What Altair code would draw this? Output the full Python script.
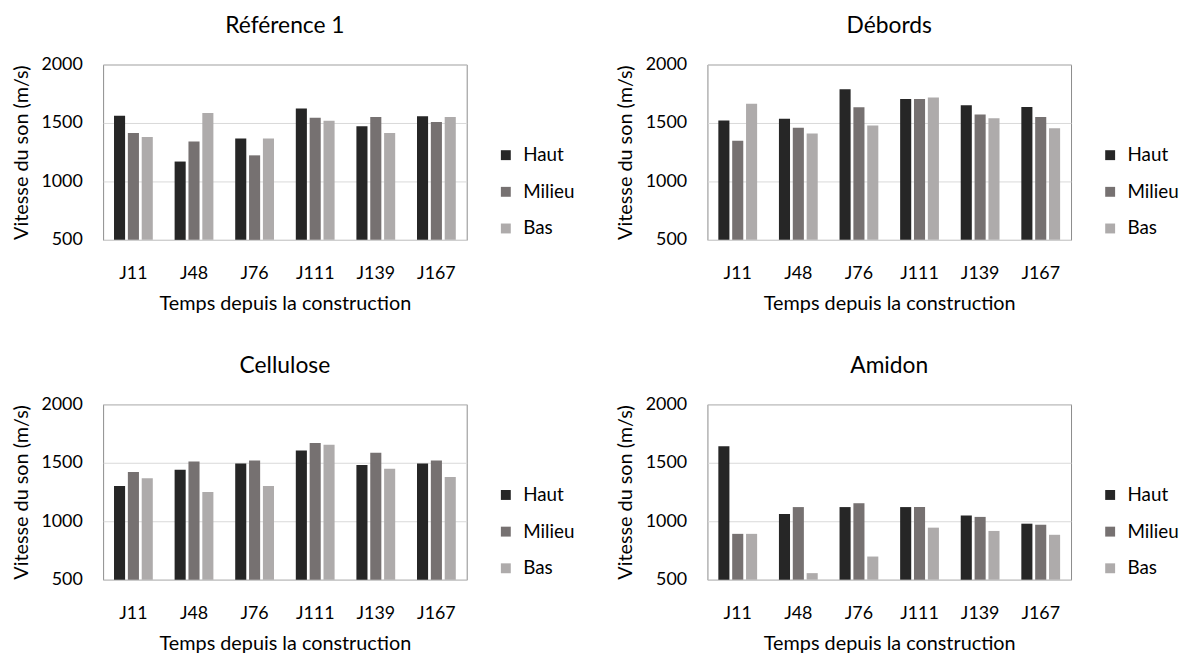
import altair as alt
import pandas as pd

days = ["J11", "J48", "J76", "J111", "J139", "J167"]
positions = ["Haut", "Milieu", "Bas"]
colors = ["#262626", "#767171", "#AEABAB"]

titles = ["Référence 1", "Débords", "Cellulose", "Amidon"]

ref_haut = [1562, 1170, 1367, 1624, 1472, 1557]
ref_milieu = [1415, 1342, 1223, 1545, 1551, 1508]
ref_bas = [1379, 1585, 1367, 1520, 1415, 1551]

deb_haut = [1522, 1536, 1789, 1704, 1651, 1637]
deb_milieu = [1347, 1460, 1634, 1704, 1572, 1552]
deb_bas = [1665, 1409, 1479, 1718, 1541, 1454]

cel_haut = [1302, 1441, 1494, 1605, 1480, 1494]
cel_milieu = [1421, 1511, 1520, 1670, 1585, 1520]
cel_bas = [1367, 1249, 1302, 1655, 1449, 1379]

ami_haut = [1641, 1062, 1121, 1121, 1048, 979]
ami_milieu = [892, 1121, 1154, 1121, 1037, 970]
ami_bas = [892, 556, 698, 945, 917, 884]

FONT = "Lato"


def panel(name, haut, milieu, bas):
    rows = []
    for series, vals in zip(positions, [haut, milieu, bas]):
        for d, v in zip(days, vals):
            rows.append({"jour": d, "pos": series, "v": v})
    df = pd.DataFrame(rows)
    return (
        alt.Chart(df)
        .mark_bar()
        .encode(
            x=alt.X(
                "jour:N",
                sort=days,
                scale=alt.Scale(paddingInner=0.36, paddingOuter=0.18),
                axis=alt.Axis(
                    title="Temps depuis la construction",
                    labelAngle=0,
                    ticks=False,
                    domain=False,
                    labelPadding=25,
                    titlePadding=11,
                ),
            ),
            xOffset=alt.XOffset("pos:N", sort=positions, scale=alt.Scale(paddingInner=0.2)),
            y=alt.Y(
                "v:Q",
                scale=alt.Scale(domain=[500, 2000]),
                axis=alt.Axis(
                    title="Vitesse du son (m/s)",
                    values=[500, 1000, 1500, 2000],
                    format="d",
                    ticks=False,
                    domain=False,
                    labelPadding=21,
                    titlePadding=10,
                    grid=True,
                ),
            ),
            y2=alt.datum(500),
            color=alt.Color(
                "pos:N",
                sort=positions,
                scale=alt.Scale(domain=positions, range=colors),
                legend=alt.Legend(
                    title=None,
                    orient="none",
                    legendX=397,
                    legendY=82,
                    symbolType="square",
                    symbolSize=100,
                    symbolStrokeWidth=0,
                    labelOffset=8,
                    rowPadding=17,
                    labelFontSize=19,
                    labelFont=FONT,
                    labelColor="#000000",
                ),
            ),
        )
        .properties(
            width=367,
            height=177,
            title=alt.TitleParams(name, fontSize=23, font=FONT, fontWeight="normal", offset=18, color="#000000"),
        )
    )


p1 = panel(titles[0], ref_haut, ref_milieu, ref_bas)
p2 = panel(titles[1], deb_haut, deb_milieu, deb_bas)
p3 = panel(titles[2], cel_haut, cel_milieu, cel_bas)
p4 = panel(titles[3], ami_haut, ami_milieu, ami_bas)

chart = (
    alt.vconcat(
        alt.hconcat(p1, p2, spacing=39).resolve_scale(color="independent"),
        alt.hconcat(p3, p4, spacing=39).resolve_scale(color="independent"),
        spacing=40,
    )
    .resolve_scale(color="independent")
    .properties(padding={"left": 2, "top": 3, "right": 0, "bottom": 0})
    .configure_view(stroke="#8c8c8c", strokeWidth=1)
    .configure_axis(
        labelFont=FONT,
        titleFont=FONT,
        labelFontSize=18,
        titleFontSize=20,
        titleFontWeight="normal",
        labelColor="#000000",
        titleColor="#000000",
        gridColor="#d9d9d9",
        gridWidth=1,
    )
)

chart.save("out.html", embed_options={"renderer": "svg", "actions": False})
